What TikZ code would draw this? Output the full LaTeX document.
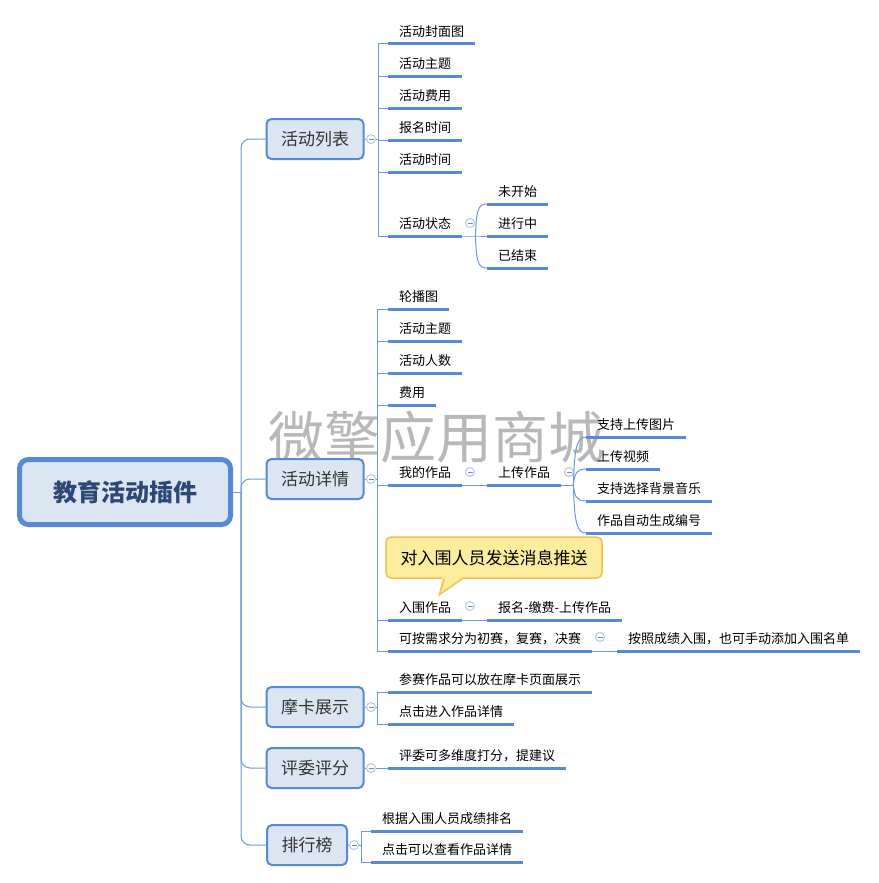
\documentclass[tikz,border=0pt]{standalone}
\usepackage{fontspec}
\setmainfont{Noto Sans CJK SC}

\definecolor{lineblue}{RGB}{86,138,210}
\definecolor{linkblue}{RGB}{108,153,216}
\definecolor{foldblue}{RGB}{178,199,236}
\definecolor{nodefill}{RGB}{220,230,242}
\definecolor{rootblue}{RGB}{44,72,118}
\definecolor{notefill}{RGB}{252,237,158}
\definecolor{noteedge}{RGB}{240,192,84}

\tikzset{
	uline/.style={draw=lineblue, line width=3pt},
	conn/.style={draw=linkblue, line width=1pt},
	rootbox/.style={draw=lineblue, line width=5pt, rounded corners=9pt, fill=nodefill,
		minimum width=211pt, minimum height=65pt, text=rootblue,
		font=\fontsize{24}{28}\selectfont\bfseries},
	topic/.style={draw=lineblue, line width=2pt, rounded corners=5pt, fill=nodefill,
		inner xsep=14.5pt, minimum height=40pt, text=black!80,
		font=\fontsize{17}{20}\selectfont},
	leaf/.style={anchor=south west, inner xsep=11pt, inner ysep=4.5pt,
		text height=10pt, text depth=3pt, font=\fontsize{13}{15}\selectfont,
		append after command={(\tikzlastnode.south west) edge[uline] (\tikzlastnode.south east)}},
	fold/.style={circle, draw=foldblue, fill=white, line width=1pt, minimum size=9pt, inner sep=0pt,
		path picture={\draw[foldblue!70!black, line width=0.8pt]
			([xshift=-2.5pt]path picture bounding box.center) -- ([xshift=2.5pt]path picture bounding box.center);}},
	note/.style={draw=noteedge, line width=1.5pt, rounded corners=5pt, fill=notefill,
		minimum width=216pt, minimum height=41pt, font=\fontsize{17}{20}\selectfont},
	wmark/.style={text=black!28, font=\fontsize{56}{60}\selectfont},
}

\begin{document}
\begin{tikzpicture}[x=1pt, y=-1pt]
	\useasboundingbox (0,0) rectangle (878,883);
	
	\def\lx{388}
	
	\node[wmark] (wm) at (436,437) {微擎应用商城};
	
	\node[rootbox] (root) at (125,492) {教育活动插件};
	
	\node[topic] (b1) at (315,139) {活动列表};
	\node[topic] (b2) at (315,479) {活动详情};
	\node[topic] (b3) at (315,707) {摩卡展示};
	\node[topic] (b4) at (315,768) {评委评分};
	\node[topic] (b5) at (307,845) {排行榜};
	
	% tronc
	\coordinate (t) at (241,492);
	\draw[conn] (root) -- (t);
	\foreach \b in {b1,b2,b3,b4,b5}
		\draw[conn, rounded corners=9pt] (t) |- (\b);
	
	% 活动列表
	\node[fold] (f1) at (371,139) {};
	\coordinate (j1) at (378,139);
	\draw[conn] (b1) -- (f1) -- (j1);
	\node[leaf] (l11) at (\lx,44) {活动封面图};
	\node[leaf] (l12) at (\lx,76) {活动主题};
	\node[leaf] (l13) at (\lx,108) {活动费用};
	\node[leaf] (l14) at (\lx,140) {报名时间};
	\node[leaf] (l15) at (\lx,172) {活动时间};
	\node[leaf] (l16) at (\lx,236) {活动状态};
	\foreach \n in {l11,l12,l13,l14,l15,l16}
		\draw[conn] (j1) |- (\n.south west);
	
	\node[fold] (fs) at (470,223) {};
	\node[leaf] (k1) at (487,204) {未开始};
	\node[leaf] (k2) at (487,236) {进行中};
	\node[leaf] (k3) at (487,268) {已结束};
	\coordinate (s1) at ([xshift=13pt]l16.south east);
	\draw[conn] (l16.south east) -- (s1) -- (k2.south west);
	\draw[conn] (s1) .. controls +(1,-26) and +(-9,0) .. (k1.south west);
	\draw[conn] (s1) .. controls +(1,26) and +(-9,0) .. (k3.south west);
	
	% 活动详情
	\node[fold] (f2) at (371,479) {};
	\coordinate (j2) at (377,479);
	\draw[conn] (b2) -- (f2) -- (j2);
	\node[leaf] (l21) at (\lx,309) {轮播图};
	\node[leaf] (l22) at (\lx,341) {活动主题};
	\node[leaf] (l23) at (\lx,373) {活动人数};
	\node[leaf] (l24) at (\lx,405) {费用};
	\node[leaf] (l25) at (\lx,485) {我的作品};
	\node[leaf] (l26) at (\lx,620) {入围作品};
	\node[leaf] (l27) at (\lx,651) {可按需求分为初赛，复赛，决赛};
	\foreach \n in {l21,l22,l23,l24,l25,l26,l27}
		\draw[conn] (j2) |- (\n.south west);
	
	\node[fold] (fw) at (470,472) {};
	\node[leaf] (up) at (487,485) {上传作品};
	\draw[conn] (l25.south east) -- (up.south west);
	
	\node[fold] (fu) at (569,472) {};
	\node[leaf] (u1) at (586,437) {支持上传图片};
	\node[leaf] (u2) at (586,469) {上传视频};
	\node[leaf] (u3) at (586,501) {支持选择背景音乐};
	\node[leaf] (u4) at (586,533) {作品自动生成编号};
	\coordinate (s2) at ([xshift=12pt]up.south east);
	\draw[conn] (up.south east) -- (s2);
	\foreach \n/\d in {u1/-38,u2/-12,u3/12,u4/38}
		\draw[conn] (s2) .. controls +(1,\d) and +(-9,0) .. (\n.south west);
	
	\node[fold] (fr) at (470,606) {};
	\node[leaf] (r1) at (487,620) {报名-缴费-上传作品};
	\draw[conn] (l26.south east) -- (r1.south west);
	
	\node[fold] (fk) at (600,637) {};
	\node[leaf] (k4) at (617,651) {按照成绩入围，也可手动添加入围名单};
	\draw[conn] (l27.south east) -- (k4.south west);
	
	\node[note] (n) at (494,557.5) {对入围人员发送消息推送};
	\fill[notefill] ([xshift=57pt,yshift=2pt]n.south west) -- ([xshift=54pt,yshift=-16pt]n.south west)
		-- ([xshift=79pt,yshift=2pt]n.south west) -- cycle;
	\draw[noteedge, line width=1.5pt] ([xshift=59pt]n.south west) -- ([xshift=54pt,yshift=-16pt]n.south west)
		-- ([xshift=77pt]n.south west);
	
	% 摩卡展示
	\node[fold] (f3) at (371,707) {};
	\coordinate (j3) at (377,707);
	\draw[conn] (b3) -- (f3) -- (j3);
	\node[leaf] (l31) at (\lx,692) {参赛作品可以放在摩卡页面展示};
	\node[leaf] (l32) at (\lx,724) {点击进入作品详情};
	\foreach \n in {l31,l32}
		\draw[conn] (j3) |- (\n.south west);
	
	% 评委评分
	\node[fold] (f4) at (371,768) {};
	\node[leaf] (l41) at (\lx,768) {评委可多维度打分，提建议};
	\draw[conn] (b4) -- (f4) -- (l41.south west);
	
	% 排行榜
	\node[fold] (f5) at (354,845) {};
	\coordinate (j5) at (361,845);
	\draw[conn] (b5) -- (f5) -- (j5);
	\node[leaf] (l51) at (371,831) {根据入围人员成绩排名};
	\node[leaf] (l52) at (371,862) {点击可以查看作品详情};
	\foreach \n in {l51,l52}
		\draw[conn] (j5) |- (\n.south west);
\end{tikzpicture}
\end{document}
